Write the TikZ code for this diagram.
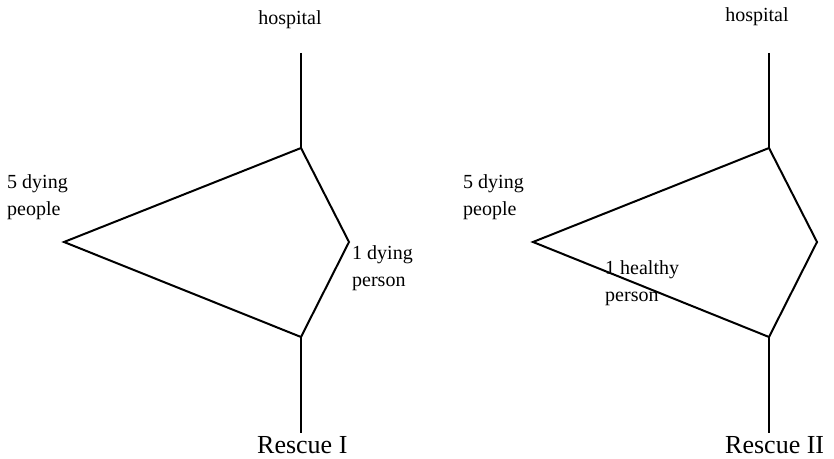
\documentclass[tikz,border=0pt]{standalone}
\usepackage{fontspec}
\setmainfont{Liberation Serif}
\begin{document}
\begin{tikzpicture}[x=1pt,y=1pt,
  edge/.style={line width=2pt, line join=miter},
  lbl/.style={inner sep=0pt, align=left, anchor=west, font=\fontsize{20}{27}\selectfont},
  ttl/.style={inner sep=0pt, anchor=base west, font=\fontsize{26}{30}\selectfont}]
\useasboundingbox (0,0) rectangle (834,458);
% Rescue I
\coordinate (aT0) at (301,405);
\coordinate (aT) at (301,310);
\coordinate (aL) at (64,216);
\coordinate (aR) at (349,216);
\coordinate (aB) at (301,121);
\coordinate (aB0) at (301,25);
\draw[edge] (aT) -- (aL) -- (aB) -- (aR) -- cycle;
\draw[edge] (aT0) -- (aT);
\draw[edge] (aB) -- (aB0);
\node[lbl, anchor=center] (aH) at (290,438) {hospital};
\node[lbl] (aP) at (7,261) {5 dying\\people};
\node[lbl] (aD) at (352,190) {1 dying\\person};
\node[ttl] (aN) at (257,5) {Rescue I};
% Rescue II
\coordinate (bT0) at (769,405);
\coordinate (bT) at (769,310);
\coordinate (bL) at (533,216);
\coordinate (bR) at (817,216);
\coordinate (bB) at (769,121);
\coordinate (bB0) at (769,25);
\draw[edge] (bT) -- (bL) -- (bB) -- (bR) -- cycle;
\draw[edge] (bT0) -- (bT);
\draw[edge] (bB) -- (bB0);
\node[lbl, anchor=center] (bH) at (757,441) {hospital};
\node[lbl] (bP) at (463,261) {5 dying\\people};
\node[lbl] (bD) at (605,175) {1 healthy\\person};
\node[ttl] (bN) at (725,5) {Rescue II};
\end{tikzpicture}
\end{document}
